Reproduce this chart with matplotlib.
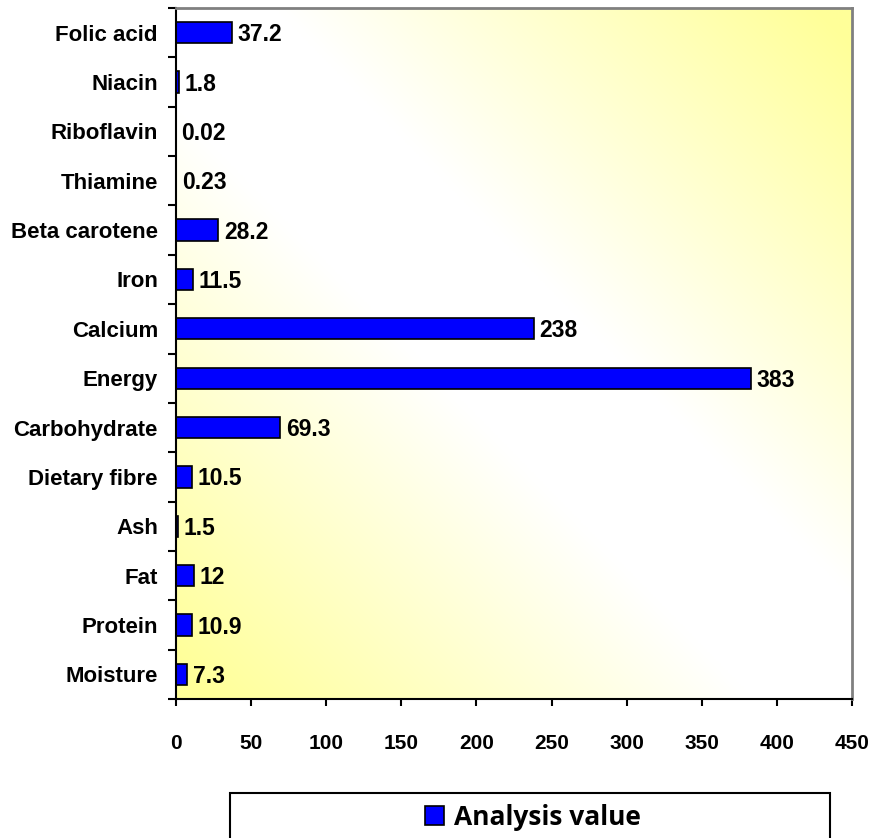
import numpy as np
import matplotlib
matplotlib.use('Agg')
import matplotlib.pyplot as plt
from matplotlib.patches import Rectangle
from matplotlib.ticker import FixedLocator

### data (bottom to top, as drawn)
nutrients = ['Moisture', 'Protein', 'Fat', 'Ash', 'Dietary fibre', 'Carbohydrate',
             'Energy', 'Calcium', 'Iron', 'Beta carotene', 'Thiamine',
             'Riboflavin', 'Niacin', 'Folic acid']
values = [7.3, 10.9, 12, 1.5, 10.5, 69.3, 383, 238, 11.5, 28.2, 0.23, 0.02, 1.8, 37.2]
value_labels = ['7.3', '10.9', '12', '1.5', '10.5', '69.3', '383', '238', '11.5',
                '28.2', '0.23', '0.02', '1.8', '37.2']
x_ticks = [0, 50, 100, 150, 200, 250, 300, 350, 400, 450]
series_name = 'Analysis value'

W, H = 873, 838
fig = plt.figure(figsize=(W/100, H/100), dpi=100)
fig.patch.set_facecolor('white')

left, right, top, bottom = 176, 852, 8, 699
ax = fig.add_axes([left/W, 1-bottom/H, (right-left)/W, (bottom-top)/H])

# yellow / white diagonal background
n = 300
gx, gy = np.meshgrid(np.linspace(0, 1, n), np.linspace(0, 1, n))
f = np.clip((np.abs(gx + gy - 1) - 0.15) / 0.8, 0, 1)
yellow = np.array([1.0, 1.0, 0.6])
img = np.ones((n, n, 3)) * (1 - f[..., None]) + yellow * f[..., None]
ax.imshow(img, extent=(0, 1, 0, 1), transform=ax.transAxes, origin='lower',
          aspect='auto', zorder=0, interpolation='bilinear')

pos = np.arange(len(nutrients))
bars = ax.barh(pos, values, height=0.43, color='#0000FF', edgecolor='black',
               linewidth=1.2, zorder=2, label=series_name)

for p, v, s in zip(pos, values, value_labels):
    ax.annotate(s, (v, p), xytext=(4, -1.5), textcoords='offset points',
                ha='left', va='center', fontsize=16.5, fontweight='bold',
                family=['Liberation Sans', 'DejaVu Sans'], zorder=4)

ax.set_xlim(0, 450)
ax.set_ylim(-0.5, len(nutrients) - 0.5)

ax.set_yticks(pos)
ax.set_yticklabels(nutrients, fontsize=16, fontweight='bold',
                   family=['Liberation Sans', 'DejaVu Sans'])
ax.yaxis.set_minor_locator(FixedLocator(np.arange(-0.5, len(nutrients), 1)))
ax.tick_params(axis='y', which='major', length=0, pad=13)
ax.tick_params(axis='y', which='minor', length=6, width=1.5, color='black')

ax.set_xticks(x_ticks)
ax.set_xticklabels([str(t) for t in x_ticks], fontsize=15, fontweight='bold',
                   family=['Liberation Sans Narrow', 'Liberation Sans', 'DejaVu Sans'])
ax.tick_params(axis='x', length=5, width=1.5, pad=20)

ax.spines['left'].set_linewidth(1.5)
ax.spines['bottom'].set_linewidth(1.5)
for s in ('top', 'right'):
    ax.spines[s].set_color('#808080')
    ax.spines[s].set_linewidth(2)

# legend box below the plot
fig.add_artist(Rectangle((230/W, -0.05), 600/W, 0.05 + 1 - 793/H,
                         transform=fig.transFigure, facecolor='white',
                         edgecolor='black', linewidth=1.5, clip_on=False))
fig.legend(handles=[bars], labels=[series_name], loc='center',
           bbox_to_anchor=(533/W, 1 - 817/H), frameon=False,
           prop={'family': ['Open Sans', 'DejaVu Sans'], 'weight': 'bold', 'size': 19},
           handlelength=0.7, handleheight=0.7, handletextpad=0.4)

plt.savefig('out.png', dpi=100)
